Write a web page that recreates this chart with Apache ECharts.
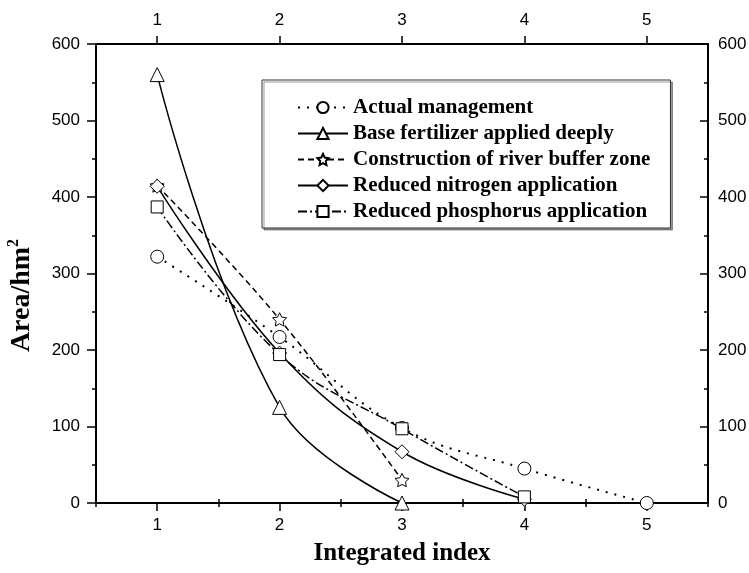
<!DOCTYPE html>
<html>
<head>
<meta charset="utf-8">
<script src="https://cdn.jsdelivr.net/npm/echarts@6/dist/echarts.min.js"></script>
<style>
  html, body { margin: 0; padding: 0; background: #fff; }
  #chart { width: 749px; height: 573px; }
</style>
</head>
<body>
<div id="chart"></div>
<script>
// x positions (integrated index)
const xValues = [1, 2, 3, 4, 5];
const majorTicks = [1, 2, 3, 4, 5];
const minorTicks = [0.5, 1.5, 2.5, 3.5, 4.5, 5.5];

// area (hm2) for each scenario
const actualManagement = [322, 217, 98, 45, 0];
const baseFertilizer = [560, 125, 0];
const riverBuffer = [415, 240, 30];
const reducedNitrogen = [414, 196, 67, 5];
const reducedPhosphorus = [387, 194, 97, 8];

const seriesNames = [
    'Actual management',
    'Base fertilizer applied deeply',
    'Construction of river buffer zone',
    'Reduced nitrogen application',
    'Reduced phosphorus application'
];

const starPath = 'path://M0,-10 L2.94,-4.05 L9.51,-3.09 L4.76,1.55 L5.88,8.09 L0,5 L-5.88,8.09 L-4.76,1.55 L-9.51,-3.09 L-2.94,-4.05 Z';

function pairs(values) {
    return values.map(function (v, i) { return [xValues[i], v]; });
}

const chart = echarts.init(document.getElementById('chart'));

const labelFont = { color: '#000', fontSize: 17, fontFamily: 'Liberation Sans, Arial, sans-serif' };
const titleFont = { color: '#000', fontSize: 25, fontWeight: 'bold', fontFamily: 'Liberation Serif, Times New Roman, serif' };
const axisLine = { show: true, onZero: false, lineStyle: { color: '#000', width: 2 } };

function xAxisMain(pos, withName) {
    return {
        type: 'value', position: pos, min: 0.5, max: 5.5,
        axisLine: axisLine,
        axisTick: { show: true, customValues: majorTicks, length: 8, lineStyle: { color: '#000', width: 1.5 } },
        axisLabel: Object.assign({ customValues: majorTicks, margin: pos === 'bottom' ? 14 : 15 }, labelFont),
        splitLine: { show: false },
        name: withName ? 'Integrated index' : '',
        nameLocation: 'middle',
        nameGap: 38,
        nameTextStyle: titleFont
    };
}
function xAxisMinor(pos) {
    return {
        type: 'value', position: pos, min: 0.5, max: 5.5,
        axisLine: { show: false },
        axisTick: { show: true, customValues: minorTicks, length: 4, lineStyle: { color: '#000', width: 1.5 } },
        axisLabel: { show: false },
        splitLine: { show: false }
    };
}
function yAxis(pos) {
    const left = pos === 'left';
    return {
        type: 'value', position: pos, min: 0, max: 600, interval: 100,
        axisLine: axisLine,
        axisTick: { show: true, inside: !left, length: left ? 9 : 8, lineStyle: { color: '#000', width: 1.5 } },
        minorTick: { show: true, splitNumber: 2, length: 4, lineStyle: { color: '#000', width: 1.5 } },
        axisLabel: Object.assign({ margin: left ? 16 : 10 }, labelFont),
        splitLine: { show: false },
        minorSplitLine: { show: false },
        name: left ? 'Area/hm{sup|2}' : '',
        nameLocation: 'middle',
        nameRotate: 90,
        nameGap: 58,
        nameTextStyle: Object.assign({}, titleFont, {
            fontSize: 28,
            padding: [0, 44, 0, 0],
            rich: { sup: { fontSize: 16, fontFamily: 'Liberation Serif, serif', verticalAlign: 'top', padding: [0, 0, 16, 0] } }
        })
    };
}

function lineSeries(name, values, symbol, size, dash, width) {
    return {
        name: name,
        type: 'line',
        data: pairs(values),
        smooth: 0.4,
        symbol: symbol,
        symbolSize: size,
        symbolKeepAspect: true,
        showAllSymbol: true,
        lineStyle: { color: '#000', width: width || 1.5, type: dash },
        itemStyle: { color: '#fff', borderColor: '#000', borderWidth: 1 },
        emphasis: { disabled: true }
    };
}

const option = {
    animation: false,
    backgroundColor: '#fff',
    grid: { left: 96, right: 41, top: 44, bottom: 70, containLabel: false, outerBoundsMode: 'none' },
    legend: {
        orient: 'vertical',
        left: 262,
        top: 80,
        padding: [17, 20, 6, 35],
        itemGap: 5,
        itemWidth: 50,
        itemHeight: 14,
        backgroundColor: '#fff',
        borderColor: '#333',
        borderWidth: 1,
        shadowColor: 'rgba(0,0,0,0.4)',
        shadowOffsetX: 2,
        shadowOffsetY: 2,
        shadowBlur: 0,
        textStyle: { color: '#000', fontSize: 21, lineHeight: 21, fontWeight: 'bold', fontFamily: 'Liberation Serif, Times New Roman, serif' },
        data: seriesNames
    },
    xAxis: [xAxisMain('bottom', true), xAxisMain('top', false), xAxisMinor('bottom'), xAxisMinor('top')],
    yAxis: [yAxis('left'), yAxis('right')],
    series: [
        lineSeries(seriesNames[0], actualManagement, 'circle', 13, [2, 7], 2),
        lineSeries(seriesNames[1], baseFertilizer, 'triangle', 14, 'solid'),
        lineSeries(seriesNames[2], riverBuffer, starPath, 14, [6, 4]),
        lineSeries(seriesNames[3], reducedNitrogen, 'diamond', 14, 'solid'),
        lineSeries(seriesNames[4], reducedPhosphorus, 'rect', 12, [9, 3, 2, 3])
    ]
};

chart.setOption(option);
</script>
</body>
</html>
